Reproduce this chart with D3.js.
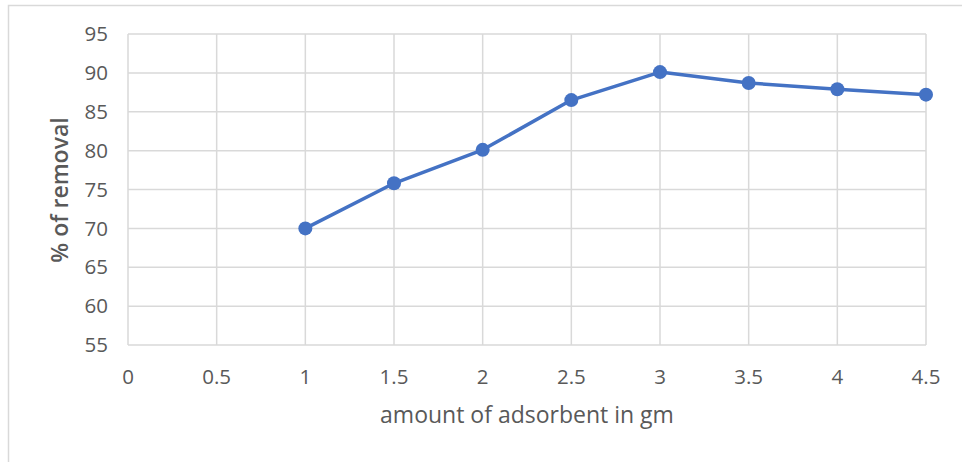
<!DOCTYPE html>
<html><head><meta charset="utf-8">
<script src="https://cdn.jsdelivr.net/npm/d3@7"></script>
<style>body{margin:0;background:#fff;}svg{display:block;font-family:"Open Sans","Liberation Sans",sans-serif;}</style>
</head><body>
<script>
const amounts = [1, 1.5, 2, 2.5, 3, 3.5, 4, 4.5];
const removal = [70.0, 75.8, 80.1, 86.5, 90.1, 88.7, 87.9, 87.2];
const xTicks = [0, 0.5, 1, 1.5, 2, 2.5, 3, 3.5, 4, 4.5];
const yTicks = [55, 60, 65, 70, 75, 80, 85, 90, 95];
const xTitle = "amount of adsorbent in gm";
const yTitle = "% of removal";

const W = 962, H = 462;
const svg = d3.select("body").append("svg").attr("width", W).attr("height", H);
svg.append("rect").attr("x", 8.5).attr("y", 5.5).attr("width", W).attr("height", H)
  .attr("fill", "#fff").attr("stroke", "#d9d9d9").attr("stroke-width", 1.5);

const x = d3.scaleLinear().domain([0, 4.5]).range([128, 926]);
const y = d3.scaleLinear().domain([55, 95]).range([345, 34]);

const grid = "#d9d9d9";
svg.append("g").selectAll("line").data(yTicks).join("line")
  .attr("x1", x(0)).attr("x2", x(4.5)).attr("y1", d => y(d)).attr("y2", d => y(d))
  .attr("stroke", grid).attr("stroke-width", 1.5);
svg.append("g").selectAll("line").data(xTicks).join("line")
  .attr("x1", d => x(d)).attr("x2", d => x(d)).attr("y1", y(55)).attr("y2", y(95))
  .attr("stroke", grid).attr("stroke-width", 1.5);

svg.append("g").selectAll("text").data(yTicks).join("text")
  .attr("x", 108).attr("y", d => y(d)).attr("dy", "0.35em").attr("text-anchor", "end")
  .attr("font-size", 20.5).attr("fill", "#595959").text(d => d);
svg.append("g").selectAll("text").data(xTicks).join("text")
  .attr("x", d => x(d)).attr("y", 377).attr("dy", "0.35em").attr("text-anchor", "middle")
  .attr("font-size", 20.5).attr("fill", "#595959").text(d => d);

svg.append("text").attr("x", 527).attr("y", 423).attr("text-anchor", "middle")
  .attr("font-size", 23).attr("fill", "#595959").text(xTitle);
svg.append("text").attr("transform", "translate(68,190) rotate(-90)")
  .attr("text-anchor", "middle").attr("font-size", 23).attr("font-weight", 600)
  .attr("fill", "#595959").text(yTitle);

const pts = amounts.map((a, i) => [a, removal[i]]);
svg.append("path").datum(pts)
  .attr("d", d3.line().x(d => x(d[0])).y(d => y(d[1])))
  .attr("fill", "none").attr("stroke", "#4472C4").attr("stroke-width", 3.5).attr("stroke-linejoin", "round");
svg.append("g").selectAll("circle").data(pts).join("circle")
  .attr("cx", d => x(d[0])).attr("cy", d => y(d[1])).attr("r", 7).attr("fill", "#4472C4");
</script>
</body></html>
